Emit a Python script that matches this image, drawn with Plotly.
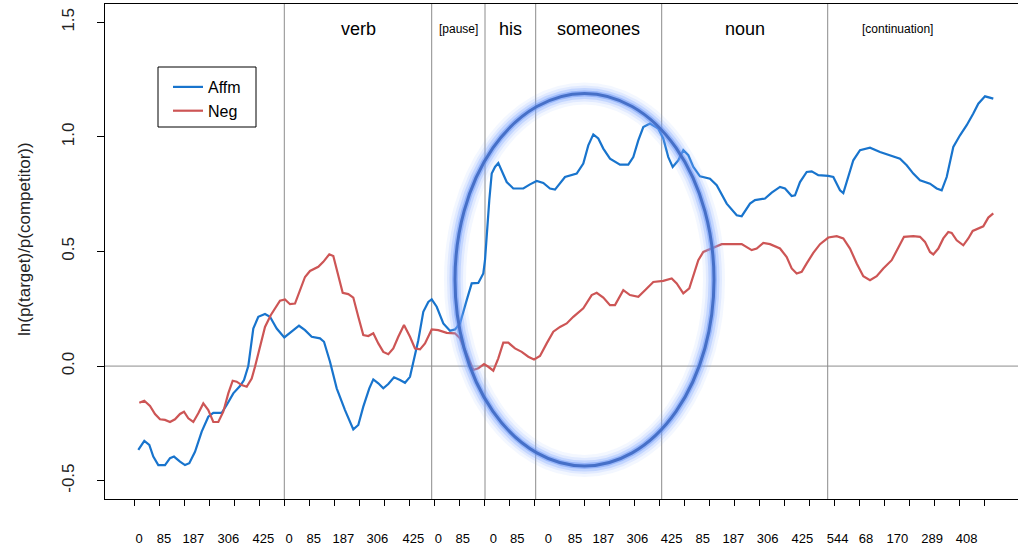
import plotly.graph_objects as go

# ---------------- data (x in time-bin units, y = ln(p(target)/p(competitor))) ----------------
affm_x = [0.172, 0.412, 0.612, 0.772, 0.972, 1.24, 1.44, 1.6, 1.84, 2.04, 2.212, 2.44, 2.708, 2.972,
          3.172, 3.508, 3.708, 3.972, 4.24, 4.4, 4.572, 4.772, 4.972, 5.24, 5.44, 5.708, 6.012, 6.308,
          6.6, 6.84, 7.108, 7.44, 7.6, 7.84, 8.108, 8.44, 8.772, 8.972, 9.172, 9.412, 9.572, 9.772,
          9.972, 10.172, 10.4, 10.64, 10.84, 11.04, 11.172, 11.372, 11.572, 11.772, 11.908, 12.108,
          12.372, 12.64, 12.84, 13.04, 13.308, 13.508, 13.772, 13.972, 14.04, 14.108, 14.212, 14.308,
          14.44, 14.572, 14.708, 14.908, 15.172, 15.572, 15.84, 16.108, 16.372, 16.64, 16.84, 17.04,
          17.24, 17.708, 17.972, 18.172, 18.372, 18.572, 18.772, 19.04, 19.44, 19.772, 19.972, 20.172,
          20.372, 20.64, 20.972, 21.172, 21.372, 21.548, 21.772, 21.972, 22.172, 22.372, 22.64, 23.04,
          23.308, 23.708, 24.108, 24.308, 24.64, 24.84, 25.24, 25.508, 25.84, 26.04, 26.308, 26.44,
          26.64, 26.908, 27.108, 27.372, 27.772, 27.972, 28.24, 28.372, 28.572, 28.772, 29.04, 29.44,
          29.84, 30.24, 30.64, 30.908, 31.172, 31.44, 31.84, 32.108, 32.308, 32.508, 32.772, 33.04,
          33.308, 33.572, 33.772, 34.04, 34.372]
affm_y = [-0.366, -0.326, -0.344, -0.395, -0.432, -0.432, -0.402, -0.395, -0.417, -0.432, -0.424,
          -0.374, -0.286, -0.221, -0.204, -0.204, -0.170, -0.119, -0.087, -0.061, 0.0, 0.164, 0.215,
          0.227, 0.215, 0.164, 0.125, 0.150, 0.176, 0.157, 0.128, 0.121, 0.106, 0.019, -0.097, -0.192,
          -0.276, -0.257, -0.177, -0.097, -0.058, -0.075, -0.097, -0.078, -0.049, -0.061, -0.073,
          -0.047, 0.012, 0.113, 0.237, 0.280, 0.291, 0.259, 0.186, 0.154, 0.160, 0.186, 0.288, 0.361,
          0.363, 0.404, 0.462, 0.578, 0.724, 0.840, 0.869, 0.886, 0.854, 0.803, 0.775, 0.775, 0.793,
          0.808, 0.799, 0.775, 0.770, 0.796, 0.825, 0.840, 0.884, 0.963, 1.011, 0.993, 0.949, 0.905,
          0.879, 0.879, 0.912, 0.985, 1.043, 1.058, 1.036, 0.993, 0.912, 0.869, 0.898, 0.942, 0.920,
          0.869, 0.828, 0.818, 0.789, 0.709, 0.658, 0.654, 0.709, 0.724, 0.731, 0.757, 0.782, 0.775,
          0.742, 0.745, 0.803, 0.847, 0.850, 0.833, 0.830, 0.825, 0.767, 0.755, 0.825, 0.898, 0.942,
          0.953, 0.934, 0.920, 0.905, 0.876, 0.840, 0.811, 0.796, 0.775, 0.767, 0.825, 0.956, 1.007,
          1.051, 1.102, 1.145, 1.177, 1.167]

neg_x = [0.212, 0.412, 0.64, 0.84, 1.04, 1.24, 1.44, 1.64, 1.84, 2.0, 2.172, 2.372, 2.572, 2.772,
         2.972, 3.172, 3.372, 3.572, 3.772, 3.948, 4.108, 4.308, 4.508, 4.708, 4.84, 5.04, 5.24, 5.468,
         5.64, 5.84, 6.04, 6.24, 6.44, 6.64, 6.84, 7.04, 7.372, 7.572, 7.812, 7.972, 8.172, 8.348,
         8.572, 8.772, 8.972, 9.172, 9.372, 9.572, 9.772, 9.972, 10.172, 10.372, 10.572, 10.8, 11.04,
         11.24, 11.44, 11.64, 11.908, 12.172, 12.508, 12.84, 13.04, 13.308, 13.572, 13.772, 14.0,
         14.172, 14.372, 14.572, 14.772, 14.972, 15.24, 15.508, 15.772, 16.0, 16.24, 16.508, 16.772,
         17.04, 17.308, 17.572, 17.972, 18.308, 18.508, 18.772, 19.04, 19.24, 19.412, 19.572, 19.84,
         20.172, 20.44, 20.772, 21.172, 21.508, 21.708, 21.972, 22.212, 22.372, 22.572, 22.772, 23.172,
         23.508, 24.308, 24.708, 24.908, 25.172, 25.44, 25.84, 26.108, 26.308, 26.508, 26.708, 26.908,
         27.172, 27.44, 27.772, 28.108, 28.372, 28.64, 28.908, 29.172, 29.44, 29.708, 29.972, 30.308,
         30.572, 30.8, 31.172, 31.44, 31.64, 31.84, 31.972, 32.172, 32.372, 32.572, 32.708, 32.908,
         33.172, 33.372, 33.548, 33.772, 33.972, 34.172, 34.372]
neg_y = [-0.160, -0.151, -0.174, -0.209, -0.232, -0.235, -0.244, -0.232, -0.209, -0.199, -0.228,
         -0.244, -0.206, -0.163, -0.192, -0.244, -0.244, -0.199, -0.119, -0.064, -0.068, -0.083,
         -0.090, -0.054, -0.003, 0.084, 0.171, 0.222, 0.252, 0.285, 0.291, 0.270, 0.273, 0.331, 0.389,
         0.415, 0.433, 0.455, 0.488, 0.480, 0.397, 0.320, 0.314, 0.299, 0.215, 0.135, 0.131, 0.143,
         0.099, 0.062, 0.052, 0.077, 0.128, 0.179, 0.128, 0.077, 0.073, 0.099, 0.160, 0.157, 0.145,
         0.143, 0.121, 0.055, -0.017, -0.010, 0.009, -0.003, -0.020, 0.034, 0.102, 0.102, 0.077, 0.062,
         0.041, 0.029, 0.044, 0.099, 0.150, 0.171, 0.186, 0.215, 0.252, 0.310, 0.320, 0.299, 0.266,
         0.266, 0.299, 0.331, 0.310, 0.302, 0.331, 0.367, 0.372, 0.382, 0.361, 0.317, 0.339, 0.397,
         0.462, 0.498, 0.517, 0.532, 0.532, 0.506, 0.513, 0.537, 0.532, 0.513, 0.476, 0.426, 0.404,
         0.411, 0.448, 0.494, 0.532, 0.561, 0.567, 0.557, 0.513, 0.448, 0.392, 0.375, 0.392, 0.426,
         0.462, 0.520, 0.564, 0.567, 0.564, 0.542, 0.498, 0.487, 0.513, 0.557, 0.585, 0.581, 0.549,
         0.527, 0.557, 0.590, 0.600, 0.610, 0.648, 0.666]

# word regions
region_bounds = [6.012, 11.908, 14.04, 16.068, 21.108, 27.748]
region_end = 33.3
region_names = ["verb", "[pause]", "his", "someones", "noun", "[continuation]"]
region_small = [False, True, False, False, False, True]

# x axis ticks and labels (ms within each region)
tick_pos = list(range(35))
label_pos = [0.2, 1.2, 2.372, 3.772, 5.172, 6.2, 7.188, 8.372, 9.732, 11.172, 12.172, 13.148,
             14.372, 15.332, 16.572, 17.64, 18.772, 20.132, 21.508, 22.748, 23.972, 25.348,
             26.732, 28.148, 29.28, 30.532, 31.928, 33.308]
label_text = ["0", "85", "187", "306", "425", "0", "85", "187", "306", "425", "0", "85", "0", "85",
              "0", "85", "187", "306", "425", "85", "187", "306", "425", "544", "68", "170", "289",
              "408"]

y_ticks = [-0.5, 0.0, 0.5, 1.0, 1.5]
y_tick_text = ["-0.5", "0.0", "0.5", "1.0", "1.5"]

# highlighted area (ellipse) in data units
hl_x = [12.84, 23.2]
hl_y = [-0.436, 1.19]

X_RANGE = [-1.16, 35.36]
Y_RANGE = [-0.58, 1.58]
FONT = "Liberation Sans, Arial, sans-serif"

W, H = 1018, 547
ML, MR, MT, MB = 105, 0, 4, 48
PW, PH = W - ML - MR, H - MT - MB


def px_x(p):
    return (p - ML) / PW


def px_y(p):
    return (H - MB - p) / PH


fig = go.Figure()
fig.add_trace(go.Scatter(x=affm_x, y=affm_y, mode="lines", name="Affm", legendgroup="a",
                         line=dict(color="#1874CD", width=2.2)))
fig.add_trace(go.Scatter(x=neg_x, y=neg_y, mode="lines", name="Neg", legendgroup="b",
                         line=dict(color="#CD5555", width=2.2)))
# carrier trace for the label axis
fig.add_trace(go.Scatter(x=label_pos, y=[None] * len(label_pos), xaxis="x2", mode="lines",
                         showlegend=False, hoverinfo="skip"))

shapes = []
for b in region_bounds:
    shapes.append(dict(type="line", xref="x", yref="paper", x0=b, x1=b, y0=0, y1=1,
                       line=dict(color="#8c8c8c", width=1), layer="below"))
shapes.append(dict(type="line", xref="paper", yref="y", x0=0, x1=1, y0=0, y1=0,
                   line=dict(color="#8c8c8c", width=1), layer="below"))
# glowing ellipse
for w, c in [(22, "rgba(140,175,255,0.10)"), (16, "rgba(130,168,255,0.16)"),
             (11, "rgba(120,160,255,0.28)"), (6, "rgba(100,145,245,0.45)")]:
    shapes.append(dict(type="circle", xref="x", yref="y", x0=hl_x[0], x1=hl_x[1], y0=hl_y[0],
                       y1=hl_y[1], line=dict(color=c, width=w), layer="above"))
shapes.append(dict(type="circle", xref="x", yref="y", x0=hl_x[0], x1=hl_x[1], y0=hl_y[0],
                   y1=hl_y[1], line=dict(color="#4670C8", width=3), layer="above"))
# legend frame
shapes.append(dict(type="rect", xref="paper", yref="paper", x0=px_x(158), x1=px_x(256),
                   y0=px_y(127), y1=px_y(67), line=dict(color="black", width=1),
                   fillcolor="white", layer="below"))

annotations = []
ends = region_bounds[1:] + [region_end]
for b0, b1, name, small in zip(region_bounds, ends, region_names, region_small):
    annotations.append(dict(x=(b0 + b1) / 2, y=1.472, xref="x", yref="y", text=name,
                            showarrow=False, xanchor="center", yanchor="middle",
                            font=dict(size=12 if small else 18, color="black", family=FONT)))
annotations.append(dict(x=px_x(25), y=px_y(239), xref="paper", yref="paper",
                        xanchor="center", yanchor="middle",
                        text="ln(p(target)/p(competitor))", textangle=-90, showarrow=False,
                        font=dict(size=17, color="#222", family=FONT)))

fig.update_layout(
    width=W, height=H,
    margin=dict(l=ML, r=MR, t=MT, b=MB, autoexpand=False),
    plot_bgcolor="white", paper_bgcolor="white",
    font=dict(family=FONT, color="black"),
    xaxis=dict(range=X_RANGE, tickvals=tick_pos, ticktext=[""] * len(tick_pos), ticks="outside",
               ticklen=6, tickcolor="black", showline=True, mirror=True, linecolor="black",
               linewidth=1, showgrid=False, zeroline=False),
    xaxis2=dict(range=X_RANGE, overlaying="x", anchor="y", side="bottom", tickvals=label_pos,
                ticktext=label_text, ticks="", showline=False, showgrid=False, zeroline=False,
                tickfont=dict(size=13, color="black", family=FONT), ticklabelstandoff=30),
    yaxis=dict(range=Y_RANGE, tickvals=y_ticks, ticktext=y_tick_text, ticks="outside", ticklen=7,
               tickcolor="black", tickangle=-90, showline=True, linecolor="black", linewidth=1,
               showgrid=False, zeroline=False, tickfont=dict(size=17, color="#222", family=FONT),
               ticklabelstandoff=16),
    legend=dict(x=px_x(168), y=px_y(70), xanchor="left", yanchor="top",
                borderwidth=0, bgcolor="rgba(0,0,0,0)",
                font=dict(size=16, color="black", family=FONT), tracegroupgap=0),
    shapes=shapes, annotations=annotations, showlegend=True,
)

fig.write_html("out.html", config={"displayModeBar": False},
               post_script="document.body.style.margin='0px';")
